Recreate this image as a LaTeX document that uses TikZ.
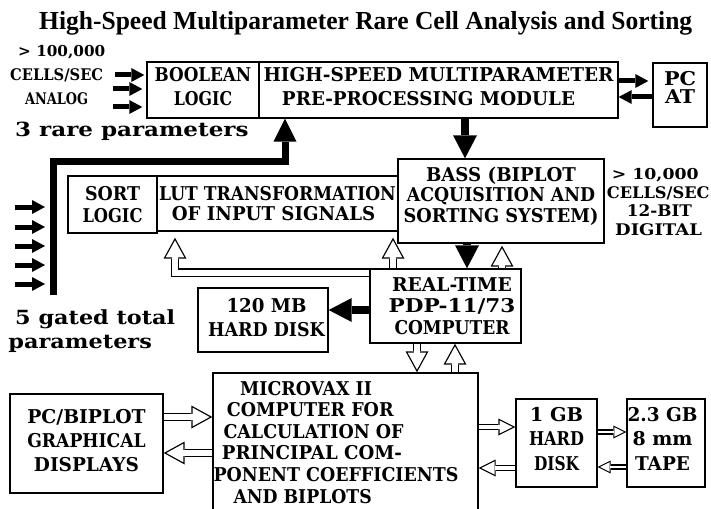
\documentclass[tikz,border=0pt]{standalone}
\usepackage{fontspec}
\setmainfont{DejaVu Serif}
\newfontfamily\titlefont{Liberation Serif}
\usepackage{graphicx}
\usetikzlibrary{arrows.meta,backgrounds,calc}
\newcommand{\fw}[2]{\resizebox{#1pt}{\height}{#2}}
\newcommand{\up}[1]{\rule[-#1pt]{0pt}{#1pt}}
\newcommand{\gap}[1]{\rule{#1pt}{0pt}}
\newcommand{\bx}[1]{\bfseries\fontsize{19}{#1}\selectfont}
\newcommand{\lb}[1]{\bfseries\fontsize{#1}{#1}\selectfont}
\tikzset{
  box/.style={draw, line width=1.4pt, inner sep=0pt, align=center},
  lbl/.style={inner sep=0pt, anchor=base west},
  blkS/.style={line width=5pt, -{Triangle[length=13pt,width=14pt,line width=0pt]}},
  blkL/.style={line width=8.5pt, -{Triangle[length=23pt,width=24pt,line width=0pt]}},
  bigL/.style={line width=7pt, -{Triangle[length=23pt,width=23pt,line width=0pt]}},
  holL/.style={line width=8.6pt, -{Triangle[length=21pt,width=23pt,line width=0pt]},
    postaction={draw=white, line width=6pt, shorten >=2.7pt, -{Triangle[length=17pt,width=18.6pt,line width=0pt]}}},
  holM/.style={line width=6.4pt, -{Triangle[length=17pt,width=17pt,line width=0pt]},
    postaction={draw=white, line width=3.8pt, shorten >=2.7pt, -{Triangle[length=13.1pt,width=13.1pt,line width=0pt]}}},
  holS/.style={line width=5.2pt, -{Triangle[length=13pt,width=13pt,line width=0pt]},
    postaction={draw=white, line width=2.8pt, shorten >=2.5pt, -{Triangle[length=9.4pt,width=9.4pt,line width=0pt]}}},
}
\begin{document}
\begin{tikzpicture}[x=1pt,y=-1pt]
\useasboundingbox (0,0) rectangle (711,508);
\clip (0,0) rectangle (711,508);

% title
\node[lbl, font=\titlefont\bfseries\fontsize{26}{30}\selectfont] (title) at (39,30)
  {\fw{653}{High-Speed Multiparameter Rare Cell Analysis and Sorting}};

% free labels
\node[lbl, font=\lb{15}] (t100) at (18,57) {\fw{87}{> 100,000}};
\node[lbl, font=\lb{16}] (tcells) at (10,81) {\fw{93}{CELLS/SEC}};
\node[lbl, font=\lb{16}] (tanalog) at (25,105) {\fw{63}{ANALOG}};
\node[lbl, font=\lb{19.5}] (trare) at (15,136.7) {\fw{233.3}{3 rare parameters}};
\node[lbl, font=\lb{19.5}] (tgated) at (15,324.3) {\fw{160}{5 gated total}};
\node[lbl, font=\lb{19.5}] (tparam) at (8.3,348.3) {\fw{143.4}{parameters}};
\node[lbl, font=\lb{15}] (t10k) at (611.7,179) {\fw{86.7}{> 10,000}};
\node[lbl, font=\lb{16}] (tcells2) at (606.7,198.3) {\fw{102.7}{CELLS/SEC}};
\node[lbl, font=\lb{16}] (t12bit) at (626.7,216.7) {\fw{65}{12-BIT}};
\node[lbl, font=\lb{16}] (tdig) at (615,235) {\fw{86.7}{DIGITAL}};

% boxes
\node[box, minimum width=112pt, minimum height=56pt, font=\bx{23.3}] (bool) at (203,90)
  {\fw{96.7}{BOOLEAN}\\\fw{58.3}{LOGIC}\up{7.3}};
\node[box, minimum width=359pt, minimum height=56pt, font=\bx{23.3}] (hsmp) at (438.5,90)
  {\fw{350}{HIGH-SPEED MULTIPARAMETER}\\\fw{293}{PRE-PROCESSING MODULE}\gap{20}\up{7.3}};
\node[box, minimum width=54pt, minimum height=64pt, font=\bx{18}] (pc) at (680,95)
  {\fw{32}{PC}\\\fw{30}{AT}\up{16}};
\node[box, minimum width=89pt, minimum height=57pt, font=\bx{21.7}] (sort) at (112.5,204.5)
  {\fw{55}{SORT}\\\fw{60}{LOGIC}};
\node[box, minimum width=241pt, minimum height=55pt, font=\bx{20.7}] (lut) at (277.5,203.5)
  {\fw{236.7}{LUT TRANSFORMATION}\\\fw{203.3}{OF INPUT SIGNALS}\gap{8}};
\node[box, minimum width=206pt, minimum height=84pt, font=\bx{20.15}] (bass) at (501,201)
  {\fw{150}{BASS (BIPLOT}\\\fw{188.3}{ACQUISITION AND}\\\fw{195}{SORTING SYSTEM)}\up{12.7}};
\node[box, minimum width=151pt, minimum height=74pt, font=\bx{21.65}] (rt) at (445.5,306)
  {\gap{13}\fw{120}{REAL-TIME}\\\gap{13}\fw{126.7}{PDP-11/73}\\\gap{13}\fw{115}{COMPUTER}};
\node[box, minimum width=130pt, minimum height=64pt, font=\bx{24}] (hd120) at (263,320)
  {\gap{7}\fw{80}{120 MB}\\\gap{7}\fw{116.7}{HARD DISK}\up{4.6}};
\node[box, minimum width=265pt, minimum height=147pt] (mvax) at (345.5,446.5) {};
\node[inner sep=0pt, anchor=north west, align=left, font=\bx{21.54}] (mvaxt) at (213.3,381)
  {\gap{26.7}\fw{131.7}{MICROVAX II}\\
   \gap{13.4}\fw{166.7}{COMPUTER FOR}\\
   \gap{10}\fw{180}{CALCULATION OF}\\
   \gap{8.4}\fw{180}{PRINCIPAL COM-}\\
   \fw{245}{PONENT COEFFICIENTS}\\
   \gap{20}\fw{138.3}{AND BIPLOTS}};
\node[box, minimum width=153pt, minimum height=99pt, font=\bx{24.2}] (pcb) at (86.5,443.5)
  {\fw{118.3}{PC/BIPLOT}\\\fw{118.3}{GRAPHICAL}\\\fw{105}{DISPLAYS}\up{6.4}};
\node[box, minimum width=81pt, minimum height=88pt, font=\bx{24.15}] (gb1) at (556.5,443)
  {\fw{53.3}{1 GB}\\\fw{55}{HARD}\\\fw{45}{DISK}\up{8.3}};
\node[box, minimum width=78pt, minimum height=88pt, font=\bx{24.15}] (tape) at (666,443)
  {\fw{70}{2.3 GB}\gap{7}\\\fw{60}{8 mm}\gap{7}\\\fw{55}{TAPE}\gap{7}\up{8.3}};

\begin{scope}[on background layer]
  % analog inputs
  \coordinate (a1) at (115,75);
  \coordinate (a2) at (113,89);
  \coordinate (a3) at (113,107);
  \draw[blkS, shorten >=2pt] (a1) -- (a1 -| bool.west);
  \draw[blkS, shorten >=4pt] (a2) -- (a2 -| bool.west);
  \draw[blkS, shorten >=4pt] (a3) -- (a3 -| bool.west);
  % gated total parameters bus
  \coordinate (lbot) at (53,295);
  \coordinate (lcorner) at (285,161);
  \foreach \i/\yy in {1/207,2/227,3/246,4/265,5/284} {
    \coordinate (g\i) at (15,\yy);
    \draw[blkS, shorten >=8pt] (g\i) -- (g\i -| lbot);
  }
  \draw[bigL] (lbot) |- (lcorner) -- (lcorner |- hsmp.south);
  % PC AT
  \draw[blkS, shorten >=4pt] (hsmp.east |- 0,81) -- (pc.west |- 0,81);
  \draw[blkS] (pc.west |- 0,97) -- (hsmp.east |- 0,97);
  % black flow
  \draw[blkL] (465,0 |- hsmp.south) -- (465,0 |- bass.north);
  \draw[blkL] (467,0 |- bass.south) -- (467,0 |- rt.north);
  \draw[blkL] (rt.west |- 0,310) -- (hd120.east |- 0,310);
  % hollow flow
  \draw[holL] (rt.west |- 0,272.5) -| ($(175,0 |- lut.south)+(0,6)$);
  \draw[holL] (393,0 |- rt.north) -- ($(393,0 |- lut.south)+(0,6)$);
  \draw[holL] (502,0 |- rt.north) -- ($(502,0 |- bass.south)+(0,2)$);
  \draw[holL] (417,0 |- rt.south) -- (417,0 |- mvax.north);
  \draw[holL] (455,0 |- mvax.north) -- (455,0 |- rt.south);
  \draw[holL] (pcb.east |- 0,417) -- (mvax.west |- 0,417);
  \draw[holL] (mvax.west |- 0,453) -- (pcb.east |- 0,453);
  \draw[holM] (mvax.east |- 0,427) -- (gb1.west |- 0,427);
  \draw[holM] (gb1.west |- 0,468) -- (mvax.east |- 0,468);
  \draw[holS] (gb1.east |- 0,432) -- (tape.west |- 0,432);
  \draw[holS] (tape.west |- 0,467) -- (gb1.east |- 0,467);
\end{scope}
\end{tikzpicture}
\end{document}
